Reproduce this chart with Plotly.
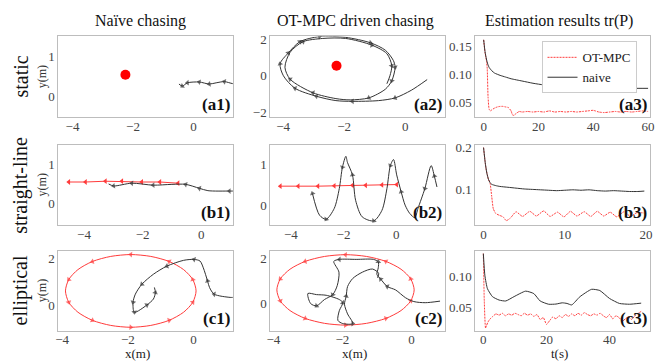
import plotly.graph_objects as go

# ---------------- data ----------------
# static target
static_target_x = [-2.25]
static_target_y = [0.55]

# (a1) naive chaser, static target
a1_x = [1.5, 1.3, 1.02, 0.75, 0.52, 0.19, -0.2, -0.37, -0.48]
a1_y = [0.33, 0.33, 0.38, 0.35, 0.32, 0.37, 0.35, 0.27, 0.32]
a1_marks = [2, 4, 5, 6, 7]

# (a2) OT-MPC chaser, static target
a2_x = [0.72, 0.2, -0.33, -0.87, -1.73, -2.27, -2.91, -3.61, -3.99, -4.1,
        -3.83, -3.45, -2.81, -1.95, -1.14, -0.65, -0.39, -0.33, -0.44, -0.65,
        -1.19, -1.8, -2.27, -3.02, -3.77, -3.94, -3.77, -3.35, -2.7, -1.95,
        -1.09, -0.6, -0.44, -0.5, -0.6]
a2_y = [-0.21, -0.8, -1.22, -1.37, -1.41, -1.37, -1.13, -0.69, 0.0, 0.66,
        1.26, 1.88, 2.16, 2.12, 1.82, 1.41, 0.85, 0.47, -0.28, -0.74,
        -1.22, -1.33, -1.26, -0.94, -0.19, 0.47, 1.3, 1.88, 2.06, 2.06,
        1.69, 1.22, 0.56, 0.0, -0.44]
a2_marks = [2, 4, 6, 7, 9, 10, 11, 12, 14, 17, 18, 20, 23, 24, 27, 30, 32]

# (a3) tr(P), static
a3_t_ot = [0, 0.5, 1, 1.3, 1.6, 2, 2.5, 3, 4, 5, 6, 7, 8, 9, 10, 10.5, 11, 11.5, 12, 13,
           14, 16, 18, 20, 22, 24, 26, 28, 30, 32, 34, 36, 38, 40, 42, 44, 46, 48, 50, 52,
           54, 56, 58, 60]
a3_p_ot = [0.161, 0.138, 0.125, 0.110, 0.060, 0.038, 0.035, 0.037, 0.040, 0.042,
           0.043, 0.043, 0.042, 0.041, 0.035, 0.028, 0.027, 0.029, 0.031, 0.034,
           0.033, 0.034, 0.033, 0.034, 0.033, 0.035, 0.033, 0.034, 0.033, 0.034,
           0.033, 0.034, 0.035, 0.036, 0.033, 0.032, 0.033, 0.034, 0.033, 0.034,
           0.033, 0.034, 0.035, 0.034]
a3_t_nv = [0, 0.5, 1, 1.5, 2, 3, 4, 6, 8, 10, 14, 18, 22, 26, 30, 35, 40, 45, 50, 55, 60]
a3_p_nv = [0.161, 0.14, 0.127, 0.118, 0.112, 0.106, 0.102, 0.098, 0.095, 0.092, 0.088,
           0.084, 0.081, 0.079, 0.077, 0.076, 0.075, 0.075, 0.075, 0.075, 0.075]

# straight-line target
b1_tx = [-0.79, -1.41, -2.03, -2.71, -3.27, -3.95, -4.52]
b1_ty = [0.52, 0.55, 0.55, 0.57, 0.57, 0.55, 0.55]
b1_x = [1.1, 0.96, 0.23, -0.06, -0.53, -1.0, -1.64, -2.37, -2.99, -3.16]
b1_y = [0.32, 0.32, 0.33, 0.39, 0.49, 0.49, 0.47, 0.52, 0.45, 0.50]
b1_marks = [1, 3, 4, 6, 7, 8]

b2_tx = [0.02, -0.54, -1.16, -1.66, -2.35, -2.97, -3.72, -4.4]
b2_ty = [0.51, 0.50, 0.49, 0.49, 0.48, 0.47, 0.47, 0.47]
b2_x = [1.55, 1.45, 1.33, 1.09, 0.83, 0.71, 0.52, 0.34, 0.19, 0.02,
        -0.1, -0.22, -0.35, -0.54, -0.85, -1.29, -1.54, -1.66, -1.85, -1.91,
        -2.04, -2.16, -2.35, -2.66, -2.91, -3.18]
b2_y = [0.45, 0.72, 0.98, 0.41, -0.08, -0.31, -0.21, 0.0, 0.33, 0.75,
        1.13, 0.98, 0.41, -0.13, -0.39, -0.29, 0.12, 0.75, 1.06, 1.21,
        0.94, 0.41, -0.08, -0.35, -0.25, 0.29]
b2_marks = [1, 3, 8, 11, 14, 17, 20, 23, 25]

b3_t_ot = [0, 0.3, 0.6, 0.8, 1.0, 1.2, 1.5, 1.9, 2.4, 2.8,
           3.3, 4.0, 4.8, 5.7, 6.5, 7.4, 8.2, 9.1, 9.9, 10.7,
           11.5, 12.4, 13.2, 14.0, 14.8, 15.6, 16.4, 17.3, 18.1, 18.9, 19.8]
b3_p_ot = [0.2, 0.15, 0.125, 0.116, 0.085, 0.055, 0.044, 0.040, 0.036, 0.027,
           0.033, 0.048, 0.037, 0.049, 0.038, 0.050, 0.037, 0.047, 0.036, 0.049,
           0.038, 0.048, 0.037, 0.049, 0.038, 0.047, 0.036, 0.048, 0.037, 0.046, 0.045]
b3_t_nv = [0, 0.2, 0.4, 0.6, 0.8, 1.0, 1.5, 2, 3, 4, 5, 6, 7, 8, 9, 10, 11, 12, 13, 14,
           15, 16, 17, 18, 19, 19.8]
b3_p_nv = [0.2, 0.165, 0.14, 0.125, 0.117, 0.113, 0.110, 0.108, 0.106, 0.104, 0.102,
           0.101, 0.100, 0.099, 0.098, 0.099, 0.100, 0.099, 0.100, 0.098, 0.097, 0.098,
           0.097, 0.096, 0.096, 0.097]

# elliptical target
ell_x = [0.08, -0.02, -0.30, -0.74, -1.30, -1.91, -2.52, -3.08, -3.52, -3.80, -3.90,
         -3.80, -3.52, -3.08, -2.52, -1.91, -1.30, -0.74, -0.30, -0.02, 0.08]
ell_y = [0.61, 1.10, 1.53, 1.88, 2.10, 2.18, 2.10, 1.88, 1.53, 1.10, 0.61,
         0.12, -0.31, -0.66, -0.88, -0.96, -0.88, -0.66, -0.31, 0.12, 0.61]
ell_marks = [1, 3, 5, 7, 9, 11, 13, 15, 17, 19]

c1_x = [1.2, 1.12, 0.63, 0.49, 0.43, 0.30, 0.20, 0.02, -0.3, -0.81,
        -1.22, -1.57, -1.77, -1.84, -1.80, -1.42, -1.22, -1.16, -1.19]
c1_y = [0.33, 0.33, 0.47, 0.76, 1.04, 1.61, 1.90, 1.97, 1.93, 1.68,
        1.33, 0.90, 0.47, 0.12, -0.31, 0.0, 0.26, 0.54, 0.76]
c1_marks = [2, 4, 7, 9, 11, 13, 14, 15, 17]

c2_x = [0.83, 0.4, 0.07, -0.17, -0.46, -0.70, -0.89, -1.0, -0.96, -0.96,
        -1.1, -1.6, -2.09, -2.25, -2.1, -2.15, -2.28, -2.52, -2.75, -2.92,
        -3.0, -2.75, -2.47, -2.09, -1.99, -2.09, -2.13, -1.99, -1.70, -1.85,
        -1.94, -1.89, -1.85, -1.70, -1.42, -1.13, -0.95, -0.98]
c2_y = [0.11, 0.04, 0.09, 0.26, 0.61, 0.76, 1.09, 1.3, 1.6, 1.86,
        1.97, 1.97, 1.97, 1.88, 1.4, 0.8, 0.40, 0.18, -0.10, 0.0,
        0.45, 0.40, 0.37, 0.18, 0.04, -0.32, -0.75, -0.89, -0.89, -0.46,
        -0.03, 0.33, 0.76, 1.12, 1.40, 1.54, 1.35, 1.15]
c2_marks = [5, 6, 9, 12, 16, 18, 24, 28, 31]

c3_t_ot = [0, 0.3, 0.7, 1, 1.5, 2, 3, 4, 5, 6, 7, 8, 9, 10, 11, 12, 13, 14, 15, 16,
           17, 18, 19, 20, 21, 22, 23, 24, 25, 26, 27, 28, 29, 30, 31, 32, 33, 34, 35, 36,
           37, 38, 39, 40, 41, 42, 43, 44, 45, 46, 47, 48, 49, 50]
c3_p_ot = [0.137, 0.06, 0.016, 0.02, 0.026, 0.030, 0.035, 0.039, 0.037, 0.040,
           0.036, 0.039, 0.037, 0.040, 0.038, 0.036, 0.040, 0.037, 0.039, 0.035,
           0.038, 0.030, 0.033, 0.022, 0.028, 0.034, 0.031, 0.036, 0.033, 0.038,
           0.035, 0.039, 0.036, 0.040, 0.037, 0.041, 0.038, 0.036, 0.039, 0.037,
           0.040, 0.036, 0.033, 0.038, 0.031, 0.036, 0.033, 0.027, 0.031, 0.034,
           0.030, 0.036, 0.040, 0.043]
c3_t_nv = [0, 0.5, 1.3, 2.9, 5, 7.1, 9.7, 13.4, 16, 18, 20.7, 23, 25, 26.5, 28,
           30.6, 34.3, 36.9, 40, 43.1, 46.3, 50]
c3_p_nv = [0.137, 0.101, 0.080, 0.067, 0.0615, 0.060, 0.067, 0.076, 0.072, 0.060,
           0.0547, 0.055, 0.057, 0.056, 0.0536, 0.067, 0.079, 0.077, 0.064, 0.056,
           0.0547, 0.0565]

col_titles = ["Naïve chasing", "OT-MPC driven chasing", "Estimation results tr(P)"]
row_titles = ["static", "straight-line", "elliptical"]
panel_labels = ["(a1)", "(a2)", "(a3)", "(b1)", "(b2)", "(b3)", "(c1)", "(c2)", "(c3)"]

# ---------------- layout helpers ----------------
W, H = 656, 363
SERIF = "Liberation Serif"
col_px = [(55, 232), (270, 447), (478, 655)]
row_px = [(33, 115), (143, 225), (251, 332)]

def xdom(c):
    return [col_px[c][0] / W, col_px[c][1] / W]

def ydom(r):
    return [1 - row_px[r][1] / H, 1 - row_px[r][0] / H]

ranges = {
    1: ([-4.47, 1.3], [-0.5, 1.5], [-4, -2, 0], [0, 1], None),
    2: ([-4.42, 1.3], [-2.28, 2.17], [-4, -2, 0], [-2, 0, 2], None),
    3: ([-3, 60.7], [0.024, 0.167], [0, 20, 40, 60], [0.05, 0.10, 0.15], ".2f"),
    4: ([-4.88, 1.08], [-0.55, 1.5], [-4, -2, 0], [0, 1], None),
    5: ([-4.78, 1.85], [-0.5, 1.5], [-4, -2, 0], [0, 1], None),
    6: ([-1, 20.5], [0.016, 0.207], [0, 10, 20], [0.1, 0.2], ".1f"),
    7: ([-4.12, 1.2], [-1.1, 2.34], [-4, -2, 0], [0, 2], None),
    8: ([-4.09, 0.97], [-1.2, 2.35], [-4, -2, 0], [0, 2], None),
    9: ([-2.5, 52.8], [0.012, 0.1415], [0, 20, 40], [0.05, 0.10], ".2f"),
}

fig = go.Figure()
layout = {}
for i in range(1, 10):
    r, c = (i - 1) // 3, (i - 1) % 3
    xr, yr, xt, yt, yf = ranges[i]
    xn = "xaxis" if i == 1 else f"xaxis{i}"
    yn = "yaxis" if i == 1 else f"yaxis{i}"
    xa = "x" if i == 1 else f"x{i}"
    ya = "y" if i == 1 else f"y{i}"
    common = dict(showgrid=False, zeroline=False, showline=True, mirror=True,
                  linecolor="#bdbdbd", linewidth=1, ticks="",
                  tickfont=dict(family=SERIF, size=13, color="#444444"))
    layout[xn] = dict(domain=xdom(c), range=xr, anchor=ya, tickvals=xt,
                      ticklabelstandoff=-3, ticklabeloverflow="allow", **common)
    yd = dict(domain=ydom(r), range=yr, anchor=xa, tickvals=yt, **common)
    if yf:
        yd["tickformat"] = yf
    layout[yn] = yd

def ax(i):
    return ("x" if i == 1 else f"x{i}", "y" if i == 1 else f"y{i}")

BLACK = "#333333"
RED = "#ff3b3b"

def traj(i, xs, ys, marks, color, size=5, width=1):
    xa, ya = ax(i)
    sizes = [size if k in marks else 0 for k in range(len(xs))]
    fig.add_trace(go.Scatter(
        x=xs, y=ys, xaxis=xa, yaxis=ya, mode="lines+markers", showlegend=False,
        line=dict(color=color, width=width, shape="spline", smoothing=0.8),
        marker=dict(symbol="triangle-up", size=sizes, color=color, angleref="previous",
                    line=dict(width=0)),
        hoverinfo="skip"))

def dot(i, xs, ys):
    xa, ya = ax(i)
    fig.add_trace(go.Scatter(x=xs, y=ys, xaxis=xa, yaxis=ya, mode="markers",
                             showlegend=False,
                             marker=dict(color="#ff0000", size=10), hoverinfo="skip"))

def lineplot(i, t, p, color, dash, name, show):
    xa, ya = ax(i)
    fig.add_trace(go.Scatter(x=t, y=p, xaxis=xa, yaxis=ya, mode="lines", name=name,
                             showlegend=show,
                             line=dict(color=color, width=1, dash=dash, shape="spline",
                                       smoothing=0.5),
                             hoverinfo="skip"))

RED_DASH = "2px,1px"

# row a
dot(1, static_target_x, static_target_y)
traj(1, a1_x, a1_y, a1_marks, BLACK)
dot(2, static_target_x, static_target_y)
traj(2, a2_x, a2_y, a2_marks, BLACK)
lineplot(3, a3_t_ot, a3_p_ot, RED, RED_DASH, "OT-MPC", True)
lineplot(3, a3_t_nv, a3_p_nv, BLACK, "solid", "naive", True)

# row b
for i, tx, ty, x, y, m in [(4, b1_tx, b1_ty, b1_x, b1_y, b1_marks),
                           (5, b2_tx, b2_ty, b2_x, b2_y, b2_marks)]:
    xa, ya = ax(i)
    fig.add_trace(go.Scatter(x=tx, y=ty, xaxis=xa, yaxis=ya, mode="lines+markers",
                             showlegend=False, line=dict(color=RED, width=1),
                             marker=dict(symbol="triangle-left", size=5, color=RED),
                             hoverinfo="skip"))
    traj(i, x, y, m, BLACK)
lineplot(6, b3_t_ot, b3_p_ot, RED, RED_DASH, "OT-MPC", False)
lineplot(6, b3_t_nv, b3_p_nv, BLACK, "solid", "naive", False)

# row c
for i, x, y, m in [(7, c1_x, c1_y, c1_marks), (8, c2_x, c2_y, c2_marks)]:
    traj(i, ell_x, ell_y, ell_marks, RED)
    traj(i, x, y, m, BLACK)
lineplot(9, c3_t_ot, c3_p_ot, RED, RED_DASH, "OT-MPC", False)
lineplot(9, c3_t_nv, c3_p_nv, BLACK, "solid", "naive", False)

# ---------------- annotations ----------------
ann = []
col_centers = [138, 356, 563]
for c in range(3):
    ann.append(dict(text=col_titles[c], x=col_centers[c] / W, y=1 - 17 / H, xref="paper",
                    yref="paper", showarrow=False, xanchor="center", yanchor="middle",
                    font=dict(family=SERIF, size=16, color="#111111")))
for r in range(3):
    cy = 1 - (row_px[r][0] + row_px[r][1]) / 2 / H
    ann.append(dict(text=row_titles[r], x=17 / W, y=cy, xref="paper", yref="paper",
                    showarrow=False, textangle=-90, xanchor="center", yanchor="middle",
                    font=dict(family=SERIF, size=20, color="#111111")))
    ann.append(dict(text="y(m)", x=38 / W, y=cy, xref="paper", yref="paper",
                    showarrow=False, textangle=-90, xanchor="center", yanchor="middle",
                    font=dict(family=SERIF, size=12, color="#333333")))
for i in range(1, 10):
    r, c = (i - 1) // 3, (i - 1) % 3
    ann.append(dict(text="<b>" + panel_labels[i - 1] + "</b>", x=(col_px[c][1] - 1) / W,
                    y=1 - (row_px[r][1] - 1) / H, xref="paper", yref="paper",
                    showarrow=False, xanchor="right", yanchor="bottom",
                    font=dict(family=SERIF, size=17, color="#111111")))
for txt, cx in [("x(m)", 135), ("x(m)", 355), ("t(s)", 563)]:
    ann.append(dict(text=txt, x=cx / W, y=1 - 355 / H, xref="paper", yref="paper",
                    showarrow=False, xanchor="center", yanchor="middle",
                    font=dict(family=SERIF, size=13, color="#222222")))

fig.update_layout(
    width=W, height=H, margin=dict(l=0, r=0, t=0, b=0),
    paper_bgcolor="white", plot_bgcolor="white",
    annotations=ann,
    legend=dict(x=545 / W, y=1 - 38 / H, xanchor="left", yanchor="top",
                bgcolor="white", bordercolor="#cccccc", borderwidth=1,
                font=dict(family=SERIF, size=13, color="#222222"),
                itemwidth=30, tracegroupgap=0),
    **layout)

fig.write_html("out.html", config={"displayModeBar": False},
               post_script="document.body.style.margin='0px';document.body.style.padding='0px';")
